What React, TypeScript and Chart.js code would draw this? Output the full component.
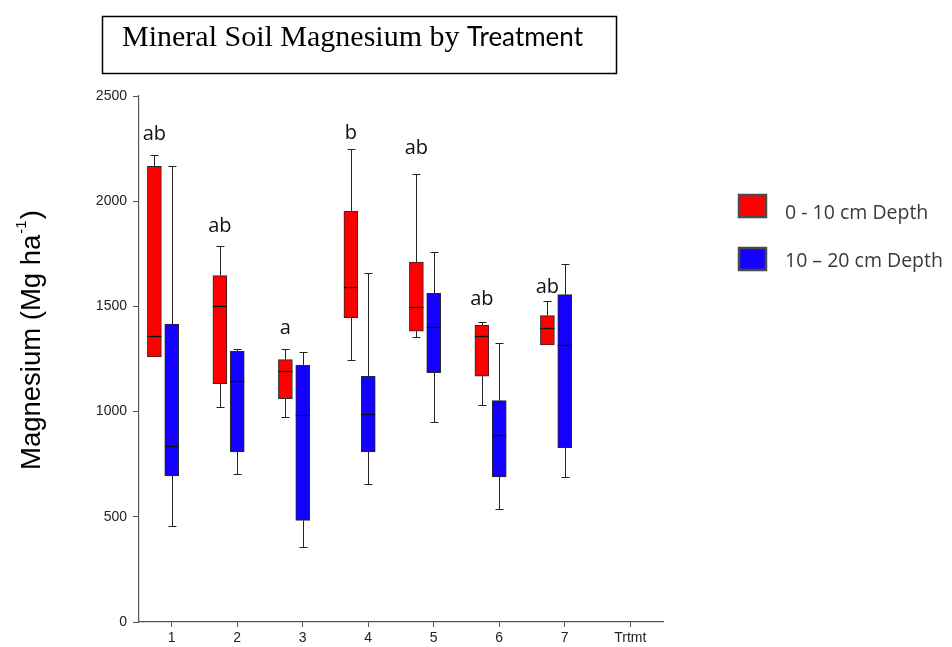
import React, { useEffect, useRef } from 'react';
import { Chart, registerables } from 'chart.js';

Chart.register(...registerables);

// ---------- data ----------
const TREATMENTS = ['1', '2', '3', '4', '5', '6', '7'];
const X_TICK_LABELS = ['1', '2', '3', '4', '5', '6', '7', 'Trtmt'];
const Y_MIN = 0;
const Y_MAX = 2500;
const Y_STEP = 500;

const SERIES_NAMES = ['0 - 10 cm Depth', '10 \u2013 20 cm Depth'];

// 0 - 10 cm depth (red)
const SHALLOW_MIN = [1260, 1022, 973, 1247, 1356, 1033, 1317];
const SHALLOW_Q1 = [1260, 1133, 1062, 1447, 1382, 1168, 1317];
const SHALLOW_MEDIAN = [1361, 1500, 1193, 1592, 1497, 1361, 1396];
const SHALLOW_Q3 = [2166, 1646, 1247, 1952, 1711, 1410, 1456];
const SHALLOW_MAX = [2220, 1787, 1296, 2250, 2131, 1428, 1526];

// 10 - 20 cm depth (blue)
const DEEP_MIN = [455, 703, 355, 654, 949, 539, 689];
const DEEP_Q1 = [694, 808, 483, 808, 1185, 689, 829];
const DEEP_MEDIAN = [835, 1147, 982, 989, 1401, 891, 1317];
const DEEP_Q3 = [1416, 1287, 1220, 1168, 1562, 1052, 1556];
const DEEP_MAX = [2166, 1296, 1282, 1661, 1760, 1328, 1700];

// significance letters and the value at which their baseline sits
const LETTERS = ['ab', 'ab', 'a', 'b', 'ab', 'ab', 'ab'];
const LETTER_VALUES = [2293, 1854, 1371, 2297, 2223, 1505, 1566];

const TITLE_SERIF = 'Mineral Soil Magnesium by ';
const TITLE_SANS = 'Treatment';
const Y_TITLE_MAIN = 'Magnesium (Mg ha';
const Y_TITLE_SUP = '-1';
const Y_TITLE_END = ')';

// ---------- styling / layout ----------
const W = 952;
const H = 647;
const RED = '#ff0000';
const BLUE = '#1400ff';
const SHALLOW_OFFSET = -0.265;
const DEEP_OFFSET = 0;
const BOX_W = 14;

const SERIES = [
  { name: SERIES_NAMES[0], color: RED, offset: SHALLOW_OFFSET, min: SHALLOW_MIN, q1: SHALLOW_Q1, med: SHALLOW_MEDIAN, q3: SHALLOW_Q3, max: SHALLOW_MAX },
  { name: SERIES_NAMES[1], color: BLUE, offset: DEEP_OFFSET, min: DEEP_MIN, q1: DEEP_Q1, med: DEEP_MEDIAN, q3: DEEP_Q3, max: DEEP_MAX },
];

const extrasPlugin = {
  id: 'boxExtras',
  beforeDatasetsDraw(chart: any) {
    const { ctx } = chart;
    const x = chart.scales.x;
    const y = chart.scales.y;
    ctx.save();
    ctx.strokeStyle = '#222';
    ctx.lineWidth = 1;
    SERIES.forEach((s) => {
      TREATMENTS.forEach((_, i) => {
        const px = Math.round(x.getPixelForValue(i + 1 + s.offset)) + 0.5;
        const whisker = (from: number, to: number) => {
          const y1 = y.getPixelForValue(from);
          const y2 = Math.round(y.getPixelForValue(to)) + 0.5;
          ctx.beginPath();
          ctx.moveTo(px, y1);
          ctx.lineTo(px, y2);
          ctx.stroke();
          ctx.beginPath();
          ctx.moveTo(px - 4, y2);
          ctx.lineTo(px + 4, y2);
          ctx.stroke();
        };
        if (s.max[i] > s.q3[i]) whisker(s.q3[i], s.max[i]);
        if (s.min[i] < s.q1[i]) whisker(s.q1[i], s.min[i]);
      });
    });
    ctx.restore();
  },
  afterDatasetsDraw(chart: any) {
    const { ctx } = chart;
    const x = chart.scales.x;
    const y = chart.scales.y;
    ctx.save();
    // medians
    ctx.strokeStyle = '#111';
    ctx.lineWidth = 1.3;
    SERIES.forEach((s) => {
      TREATMENTS.forEach((_, i) => {
        const px = x.getPixelForValue(i + 1 + s.offset);
        const py = Math.round(y.getPixelForValue(s.med[i])) + 0.5;
        ctx.beginPath();
        ctx.moveTo(px - BOX_W / 2, py);
        ctx.lineTo(px + BOX_W / 2, py);
        ctx.stroke();
      });
    });
    // letters
    ctx.fillStyle = '#111';
    ctx.font = '20px "Open Sans"';
    ctx.textAlign = 'center';
    ctx.textBaseline = 'alphabetic';
    LETTERS.forEach((l, i) => {
      const px = x.getPixelForValue(i + 1 + SHALLOW_OFFSET);
      ctx.fillText(l, px, y.getPixelForValue(LETTER_VALUES[i]));
    });
    ctx.restore();
  },
  afterDraw(chart: any) {
    const { ctx } = chart;
    ctx.save();
    // title box
    ctx.strokeStyle = '#000';
    ctx.lineWidth = 1.5;
    ctx.strokeRect(102.5, 16.5, 514, 57);
    ctx.fillStyle = '#000';
    ctx.textAlign = 'left';
    ctx.textBaseline = 'alphabetic';
    ctx.font = '30px "Liberation Serif"';
    ctx.fillText(TITLE_SERIF, 122, 46);
    const w1 = ctx.measureText(TITLE_SERIF).width;
    ctx.font = '26px Lato';
    ctx.fillText(TITLE_SANS, 122 + w1, 46);

    // y-axis title (rotated, with superscript)
    ctx.save();
    ctx.translate(40, 470);
    ctx.rotate(-Math.PI / 2);
    ctx.fillStyle = '#000';
    ctx.font = '27.5px "Liberation Sans"';
    ctx.fillText(Y_TITLE_MAIN, 0, 0);
    let off = ctx.measureText(Y_TITLE_MAIN).width + 1;
    ctx.font = '15px "Liberation Sans"';
    ctx.fillText(Y_TITLE_SUP, off, -14);
    off += ctx.measureText(Y_TITLE_SUP).width + 1;
    ctx.font = '27.5px "Liberation Sans"';
    ctx.fillText(Y_TITLE_END, off, 0);
    ctx.restore();

    // legend
    const items = [
      { color: RED, top: 195, baseline: 219 },
      { color: BLUE, top: 248, baseline: 267 },
    ];
    items.forEach((it, i) => {
      ctx.fillStyle = it.color;
      ctx.fillRect(739, it.top, 27, 22);
      ctx.strokeStyle = '#4a4a4a';
      ctx.lineWidth = 2.5;
      ctx.strokeRect(739, it.top, 27, 22);
      ctx.fillStyle = '#3a3a3a';
      ctx.font = '19.5px "Open Sans"';
      ctx.fillText(SERIES[i].name, 785, it.baseline);
    });
    ctx.restore();
  },
};

export default function App() {
  const canvasRef = useRef<HTMLCanvasElement | null>(null);

  useEffect(() => {
    const canvas = canvasRef.current;
    if (!canvas) return;
    const datasets = SERIES.map((s) => ({
      type: 'bar' as const,
      label: s.name,
      data: TREATMENTS.map((_, i) => ({ x: i + 1 + s.offset, y: [s.q1[i], s.q3[i]] })),
      backgroundColor: s.color,
      borderColor: '#2a2a2a',
      borderWidth: 1,
      borderSkipped: false,
      grouped: false,
      barPercentage: 1,
      categoryPercentage: 1,
      maxBarThickness: BOX_W,
    }));

    const chart = new Chart(canvas, {
      type: 'bar',
      data: { datasets } as any,
      options: {
        animation: false,
        responsive: false,
        devicePixelRatio: 1,
        layout: { padding: { left: 0, top: 96, right: W - 663, bottom: 0 } },
        plugins: {
          legend: { display: false },
          tooltip: { enabled: false },
          title: { display: false },
        },
        scales: {
          x: {
            type: 'linear',
            min: 0.5,
            max: X_TICK_LABELS.length + 0.5,
            offset: false,
            afterBuildTicks: (scale: any) => {
              scale.ticks = X_TICK_LABELS.map((_, i) => ({ value: i + 1 }));
            },
            afterFit: (scale: any) => {
              scale.height = H - 622;
            },
            ticks: {
              autoSkip: false,
              maxRotation: 0,
              padding: 3,
              color: '#222',
              font: { family: '"Liberation Sans"', size: 14 },
              callback: (v: any) => X_TICK_LABELS[Math.round(Number(v)) - 1] ?? '',
            },
            grid: { display: true, drawOnChartArea: false, drawTicks: true, tickLength: 5, color: '#555', offset: false },
            border: { display: true, color: '#555', width: 1.2 },
          },
          y: {
            type: 'linear',
            min: Y_MIN,
            max: Y_MAX,
            afterFit: (scale: any) => {
              scale.width = 139;
            },
            ticks: {
              stepSize: Y_STEP,
              padding: 6,
              color: '#222',
              font: { family: '"Liberation Sans"', size: 14 },
              callback: (v: any) => String(v),
            },
            grid: { display: true, drawOnChartArea: false, drawTicks: true, tickLength: 6, color: '#555' },
            border: { display: true, color: '#555', width: 1.2 },
          },
        },
      } as any,
      plugins: [extrasPlugin],
    });
    return () => chart.destroy();
  }, []);

  return (
    <div style={{ position: 'fixed', left: 0, top: 0, width: W, height: H, background: '#fff' }}>
      <canvas ref={canvasRef} width={W} height={H} style={{ width: W, height: H, display: 'block' }} />
    </div>
  );
}
